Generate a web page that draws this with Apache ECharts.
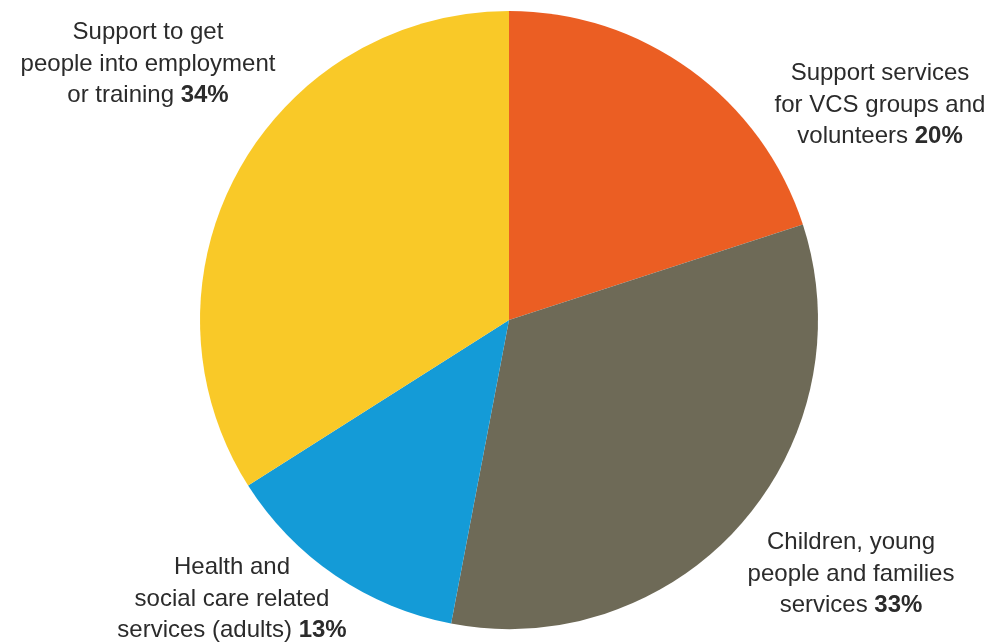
<!DOCTYPE html>
<html>
<head>
<meta charset="utf-8">
<script src="https://cdn.jsdelivr.net/npm/echarts@6/dist/echarts.min.js"></script>
<style>html,body{margin:0;padding:0;background:#fff}#c{width:990px;height:644px}</style>
</head>
<body>
<div id="c"></div>
<script>
var categories = ['Support services for VCS groups and volunteers', 'Children, young people and families services', 'Health and social care related services (adults)', 'Support to get people into employment or training'];
var labelLines = [
  ['Support services', 'for VCS groups and', 'volunteers'],
  ['Children, young', 'people and families', 'services'],
  ['Health and', 'social care related', 'services (adults)'],
  ['Support to get', 'people into employment', 'or training']
];
var values = [20, 33, 13, 34];
var colors = ['#EB5E23', '#6E6A57', '#149BD7', '#F9C928'];
var labelPos = [[880, 105], [851, 574], [232, 599], [148, 64]];

var chart = echarts.init(document.getElementById('c'));
var FONT = '"Liberation Sans", Arial, Helvetica, sans-serif';
var graphics = labelLines.map(function (lines, i) {
  var t = lines.slice(0, -1).map(function (l) { return '{n|' + l + '}'; });
  t.push('{n|' + lines[lines.length - 1] + ' }{b|' + values[i] + '%}');
  return {
    type: 'text',
    x: labelPos[i][0],
    y: labelPos[i][1],
    style: {
      text: t.join('\n'),
      align: 'center',
      verticalAlign: 'middle',
      fill: '#2b2b2b',
      rich: {
        n: { fontFamily: FONT, fontSize: 24, lineHeight: 31.5, color: '#2e2e2e' },
        b: { fontFamily: FONT, fontSize: 24, lineHeight: 31.5, fontWeight: 'bold', color: '#231f20' }
      }
    }
  };
});
chart.setOption({
  animation: false,
  backgroundColor: '#ffffff',
  series: [{
    type: 'pie',
    center: [509, 320],
    radius: [0, 309],
    startAngle: 90,
    clockwise: true,
    label: { show: false },
    labelLine: { show: false },
    itemStyle: { borderWidth: 0 },
    emphasis: { disabled: true },
    data: categories.map(function (c, i) {
      return { name: c, value: values[i], itemStyle: { color: colors[i] } };
    })
  }],
  graphic: graphics
});
</script>
</body>
</html>
